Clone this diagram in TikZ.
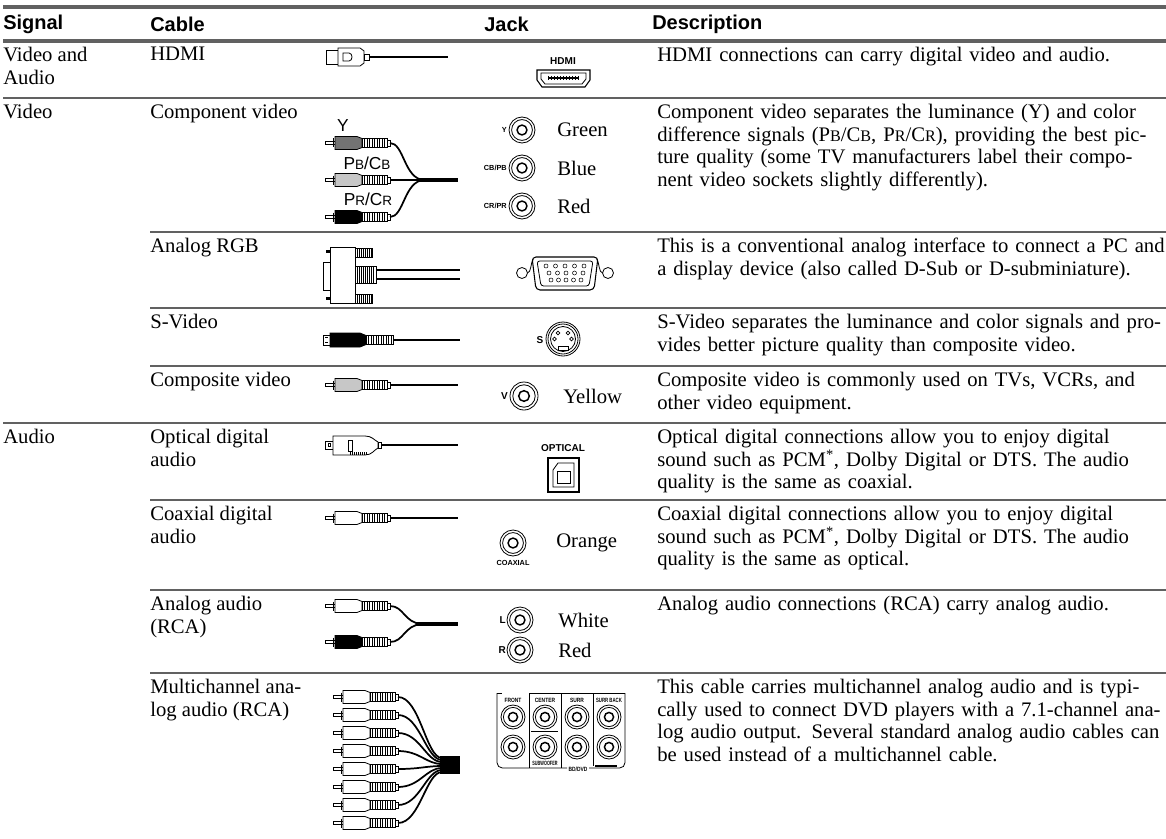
\documentclass[tikz,border=0pt]{standalone}
\usepackage{fontspec}
\usepackage{graphicx}
\setmainfont{Liberation Serif}
\setsansfont{Liberation Sans}
\usetikzlibrary{positioning}
\setlength{\parindent}{0pt}

\tikzstyle{head} = [font=\sffamily\bfseries\fontsize{15}{17}\selectfont, anchor=west, inner sep=0pt]
\tikzstyle{cell} = [font=\fontsize{15.5}{17}\selectfont, anchor=north west, inner sep=0pt, align=left]
\tikzstyle{desc} = [cell, text width=376pt]
\tikzstyle{colword} = [font=\fontsize{15.5}{17}\selectfont, anchor=west, inner sep=0pt]
\tikzstyle{tag} = [font=\sffamily\bfseries\fontsize{5.5}{6}\selectfont, inner sep=0pt]
\tikzstyle{paneltag} = [font=\sffamily\bfseries\fontsize{4.6}{5}\selectfont, inner sep=0pt]
\tikzstyle{bigtag} = [font=\sffamily\bfseries\fontsize{7.5}{8}\selectfont, inner sep=0pt]
\tikzstyle{plabel} = [font=\sffamily\fontsize{13}{13}\selectfont, inner sep=0pt]
\tikzstyle{rule} = [line width=1.8pt, draw=black!62]
\tikzstyle{boldrule} = [line width=3pt, draw=black!62]
\tikzstyle{wire} = [line width=1.3pt]
\tikzstyle{bundle} = [line width=3pt]
\tikzstyle{outline} = [line width=0.6pt]

\newcommand{\lowcap}[1]{\scalebox{0.78}{#1}}
\newcommand{\fl}[1]{\makebox[376pt][s]{#1}}
\newcommand{\narrow}[1]{\scalebox{0.8}[1]{#1}}

% rca plug: left end x, centre y, body colour
\newcommand{\rcaplug}[3]{%
  \draw[outline, fill=white] (#1,#2-1.8) rectangle ++(10,3.6);
  \draw[line width=0.9pt] (#1+8.5,#2-4.5) -- ++(0,9);
  \draw[outline, fill=#3] (#1+10,#2-6.5) -- ++(22,0) -- ++(5,2) -- ++(0,9) -- ++(-5,2) -- ++(-22,0) -- cycle;
  \draw[outline, fill=white] (#1+37,#2-4.5) rectangle ++(25,9);
  \foreach \k in {2.5,5,...,22.5} \draw[line width=0.5pt] (#1+37+\k,#2-4.5) -- ++(0,9);
  \draw[outline, fill=white] (#1+62,#2-3) rectangle ++(3,6);
}
% rca jack: centre x, centre y, radius
\newcommand{\rcajack}[3]{%
  \draw[outline] (#1,#2) circle[radius=#3];
  \draw[outline] (#1,#2) circle[radius=0.8*#3];
  \draw[line width=1.1pt] (#1,#2) circle[radius=0.38*#3];
}

\begin{document}
\begin{tikzpicture}[x=0.75pt, y=-0.75pt]
\useasboundingbox (0,0) rectangle (1166,838);

% header
\draw[boldrule] (3,7) -- (1166,7);
\node (h-signal) [head] at (3,24) {Signal};
\node (h-cable) [head] at (150,24) {Cable};
\node (h-jack) [head] at (484,24) {Jack};
\node (h-desc) [head] at (652,24) {Description};
\draw[boldrule] (3,41) -- (1166,41);

% rules between rows
\draw[rule] (3,98) -- (1166,98);
\draw[rule] (150,232) -- (1166,232);
\draw[rule] (150,308) -- (1166,308);
\draw[rule] (150,366) -- (1166,366);
\draw[rule] (3,423) -- (1166,423);
\draw[rule] (150,500) -- (1166,500);
\draw[rule] (150,590) -- (1166,590);
\draw[rule] (150,673) -- (1166,673);

% signal column
\node (sig-va) [cell] at (3,47) {Video and\\Audio};
\node (sig-v) [cell] at (3,104) {Video};
\node (sig-a) [cell] at (3,429) {Audio};

% cable column
\node (cab-hdmi) [cell] at (150,47) {HDMI};
\node (cab-comp) [cell] at (150,104) {Component video};
\node (cab-rgb) [cell] at (150,238) {Analog RGB};
\node (cab-sv) [cell] at (150,314) {S-Video};
\node (cab-cv) [cell] at (150,372) {Composite video};
\node (cab-opt) [cell] at (150,429) {Optical digital\\audio};
\node (cab-coax) [cell] at (150,506) {Coaxial digital\\audio};
\node (cab-aa) [cell] at (150,596) {Analog audio\\(RCA)};
\node (cab-mc) [cell] at (150,679) {Multichannel ana-\\log audio (RCA)};

% descriptions
\node (desc-hdmi) [desc] at (657,47) {HDMI connections can carry digital video and audio.};
\node (desc-comp) [desc] at (657,104) {\fl{Component video separates the luminance (Y) and color}\\
  \fl{difference signals (P\lowcap{B}/C\lowcap{B}, P\lowcap{R}/C\lowcap{R}), providing the best pic-}\\
  \fl{ture quality (some TV manufacturers label their compo-}\\
  nent video sockets slightly differently).};
\node (desc-rgb) [desc] at (657,238) {\fl{This is a conventional analog interface to connect a PC and}\\
  a display device (also called D-Sub or D-subminiature).};
\node (desc-sv) [desc] at (657,314) {\fl{S-Video separates the luminance and color signals and pro-}\\
  vides better picture quality than composite video.};
\node (desc-cv) [desc] at (657,372) {Composite video is commonly used on TVs, VCRs, and\\
  other video equipment.};
\node (desc-opt) [desc] at (657,429) {Optical digital connections allow you to enjoy digital\\
  sound such as PCM\textsuperscript{*}, Dolby Digital or DTS. The audio\\
  quality is the same as coaxial.};
\node (desc-coax) [desc] at (657,506) {Coaxial digital connections allow you to enjoy digital\\
  sound such as PCM\textsuperscript{*}, Dolby Digital or DTS. The audio\\
  quality is the same as optical.};
\node (desc-aa) [desc] at (657,596) {Analog audio connections (RCA) carry analog audio.};
\node (desc-mc) [desc] at (657,679) {\fl{This cable carries multichannel analog audio and is typi-}\\
  \fl{cally used to connect DVD players with a 7.1-channel ana-}\\
  \fl{log audio output. Several standard analog audio cables can}\\
  be used instead of a multichannel cable.};

% HDMI cable
\draw[outline] (338,50) -- (326,50) -- (326,64) -- (338,64);
\draw[outline, fill=white] (338,48) -- (360,48) -- (364,51) -- (364,63) -- (360,66) -- (338,66) -- cycle;
\draw[outline] (343,53) -- (349,53) .. controls (353,53) and (353,61) .. (349,61) -- (343,61) -- cycle;
\draw[outline, fill=white] (364,54) rectangle (369,60);
\draw[wire] (369,57) -- (448,57);
% HDMI jack
\node (tag-hdmi) [bigtag] at (563,61) {HDMI};
\draw[line width=0.8pt] (537,70) -- (590,70) -- (590,80) -- (585,87) -- (542,87) -- (537,80) -- cycle;
\draw[outline] (541,73) -- (586,73) -- (586,79) -- (582,84) -- (545,84) -- (541,79) -- cycle;
\draw[line width=0.8pt] (548,78) -- (579,78);
\foreach \k in {0,3,...,30} \draw[line width=0.4pt] (548.5+\k,76) -- ++(0,4);

% component cable
\node (lbl-y) [plabel] at (343,126) {Y};
\node (lbl-pb) [plabel] at (367,163) {P\lowcap{B}/C\lowcap{B}};
\node (lbl-pr) [plabel] at (368,199) {P\lowcap{R}/C\lowcap{R}};
\rcaplug{325}{143}{black!55}
\rcaplug{325}{180}{black!22}
\rcaplug{325}{217}{black}
\draw[wire] (390,143) .. controls (404,143) and (404,179) .. (424,180);
\draw[wire] (390,180) -- (424,180);
\draw[wire] (390,217) .. controls (404,217) and (404,181) .. (424,180);
\draw[bundle] (418,180) -- (458,180);
% component jacks
\node (tag-y) [tag, anchor=east] at (507,130) {Y};
\node (tag-cb) [tag, anchor=east] at (507,168) {CB/PB};
\node (tag-cr) [tag, anchor=east] at (507,206) {CR/PR};
\rcajack{522}{130}{13}
\rcajack{522}{168}{13}
\rcajack{522}{206}{13}
\node (col-green) [colword] at (557,130) {Green};
\node (col-blue) [colword] at (557,168) {Blue};
\node (col-red) [colword] at (557,206) {Red};

% analog RGB cable
\draw[outline, fill=white] (323,262) rectangle (330,290);
\draw[outline, fill=white] (330,247) rectangle (355,303);
\fill (326,250) rectangle (330,253);
\fill (326,297) rectangle (330,300);
\foreach \yy in {248,294} {
  \draw[outline, fill=white] (355,\yy) rectangle ++(17,9);
  \foreach \k in {2,4,...,16} \draw[line width=0.4pt] (355+\k,\yy) -- ++(0,9);
}
\draw[outline, fill=white] (355,266) rectangle (376,283);
\foreach \k in {2,4,...,18} \draw[line width=0.4pt] (355+\k,266) -- ++(0,17);
\draw[line width=0.9pt] (376,270) -- (460,270);
\draw[line width=0.9pt] (376,279) -- (460,279);
% VGA jack
\draw[outline] (522,273) circle[radius=5.5];
\draw[outline] (608,273) circle[radius=5.5];
\draw[outline] (527.5,273) .. controls (531,273) and (531,262) .. (533,259);
\draw[outline] (602.5,273) .. controls (599,273) and (599,262) .. (597,259);
\draw[line width=0.8pt, rounded corners=3] (532,257) -- (598,257) -- (594,290) -- (536,290) -- cycle;
\draw[outline, rounded corners=2] (537,261) -- (593,261) -- (589,286) -- (541,286) -- cycle;
\foreach \i in {0,...,4} {
  \draw[line width=0.4pt] (546+9.5*\i,266) circle[radius=2];
  \draw[line width=0.4pt] (549+8.5*\i,273) circle[radius=2];
  \draw[line width=0.4pt] (551+7.5*\i,280) circle[radius=2];
}

% S-Video cable
\draw[outline, fill=white] (323,335) rectangle (330,345);
\draw[outline] (325,337.5) -- (328,337.5) (325,342.5) -- (328,342.5);
\draw[outline, fill=black] (330,333) -- (360,333) -- (366,335.5) -- (366,344.5) -- (360,347) -- (330,347) -- cycle;
\draw[outline, fill=white] (366,335.5) rectangle (393,344.5);
\foreach \k in {2.5,5,...,25} \draw[line width=0.5pt] (366+\k,335.5) -- ++(0,9);
\draw[wire] (393,340) -- (460,340);
% S-Video jack
\node (tag-s) [bigtag] at (540,340) {S};
\draw[outline] (563,339) circle[radius=17];
\draw[outline] (563,339) circle[radius=15];
\draw[outline] (563,339) circle[radius=12.5];
\foreach \dx/\dy in {-5/-6, 5/-6, -8.5/0, 8.5/0} \draw[line width=0.5pt] (563+\dx,339+\dy) circle[radius=1.8];
\draw[outline] (558,346) rectangle (568,350);

% composite cable
\rcaplug{325}{385}{black!22}
\draw[wire] (390,385) -- (458,385);
\node (tag-v) [bigtag, anchor=east] at (508,396) {V};
\rcajack{524}{396}{14}
\node (col-yellow) [colword] at (563,396) {Yellow};

% optical cable
\draw[outline, fill=white] (325,441) rectangle (333,449);
\draw[outline] (328,443.5) rectangle (330.5,446.5);
\draw[outline, fill=white] (333,436) -- (365,436) .. controls (372,436) and (374,440) .. (378,442) -- (378,448) .. controls (374,450) and (372,455) .. (365,455) -- (333,455) -- cycle;
\draw[outline] (348,440) rectangle (352,451);
\foreach \k in {0,2,...,16} \draw[line width=0.4pt] (350+\k,452) -- ++(0,3);
\draw[outline, fill=white] (378,442) rectangle (381,448);
\draw[wire] (381,445) -- (458,445);
% optical jack
\node (tag-opt) [bigtag] at (563,448) {OPTICAL};
\draw[line width=0.8pt] (548,458) rectangle (579,492);
\draw[outline] (553,470) -- (558,463) -- (574,463) -- (574,487) -- (553,487) -- cycle;
\draw[outline] (557,471) rectangle (570,483);

% coaxial cable
\rcaplug{325}{518}{white}
\draw[wire] (390,518) -- (458,518);
\rcajack{513}{543}{13}
\node (tag-coax) [tag] at (513,563) {COAXIAL};
\node (col-orange) [colword] at (556,543) {Orange};

% analog audio cable
\rcaplug{325}{606}{white}
\rcaplug{325}{642}{black}
\draw[wire] (390,606) .. controls (404,606) and (404,623) .. (422,624);
\draw[wire] (390,642) .. controls (404,642) and (404,625) .. (422,624);
\draw[bundle] (416,624) -- (458,624);
\node (tag-l) [bigtag, anchor=east] at (506,620) {L};
\node (tag-r) [bigtag, anchor=east] at (506,650) {R};
\rcajack{520}{620}{13}
\rcajack{520}{650}{13}
\node (col-white) [colword] at (558,620) {White};
\node (col-red2) [colword] at (558,650) {Red};

% multichannel cable
\foreach \i in {0,...,7} {
  \rcaplug{333}{697+18*\i}{white}
  \draw[wire] (398,697+18*\i) .. controls (420,697+18*\i) and (426,758+2*\i) .. (442,758+2*\i);
}
\fill (440,756) rectangle (460,774);
% multichannel panel
\draw[outline, rounded corners=4] (497,693) -- (497,768) -- (567,768);
\draw[outline, rounded corners=4] (589,768) -- (625,768) -- (625,693);
\draw[outline] (529,693) -- (625,693);
\draw[outline] (497,693) -- (502,693);
\draw[outline] (529,693) -- (529,768);
\draw[outline] (561,693) -- (561,768);
\draw[outline] (593,693) -- (593,766);
\draw[outline] (531,731) -- (558,731);
\draw[line width=1.4pt] (595,766) -- (617,766);
\node (tag-front) [paneltag] at (513,700) {\narrow{FRONT}};
\node (tag-center) [paneltag] at (545,700) {\narrow{CENTER}};
\node (tag-surr) [paneltag] at (577,700) {\narrow{SURR}};
\node (tag-sback) [paneltag] at (609,700) {\scalebox{0.7}[1]{SURR BACK}};
\node (tag-sub) [paneltag] at (545,763) {\scalebox{0.62}[1]{SUBWOOFER}};
\node (tag-bd) [paneltag] at (578,769) {\narrow{BD/DVD}};
\foreach \cx in {513,545,577,609} {
  \rcajack{\cx}{717}{12}
  \rcajack{\cx}{747}{12}
}

\end{tikzpicture}
\end{document}
